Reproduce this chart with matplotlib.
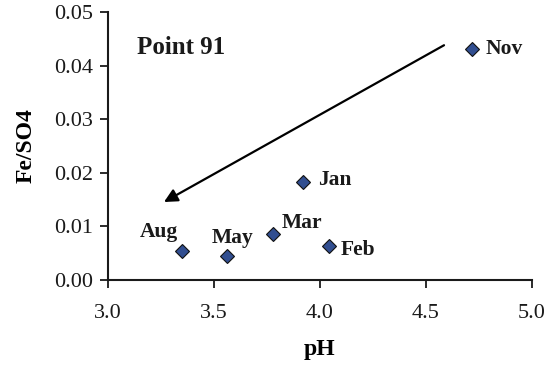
import matplotlib.pyplot as plt

# monthly samples at point 91
months = ['Nov', 'Jan', 'Mar', 'Feb', 'May', 'Aug']
ph = [4.717, 3.92, 3.78, 4.044, 3.563, 3.35]
fe_so4 = [0.0431, 0.0183, 0.0086, 0.0064, 0.0045, 0.0054]

# label placement in points: (dx, dy, ha, va)
offsets = {
    'Nov': (9.4, 0.0, 'left', 'center'),
    'Jan': (10.8, 1.4, 'left', 'center'),
    'Mar': (5.8, 4.3, 'left', 'baseline'),
    'Feb': (8.5, -3.2, 'left', 'center'),
    'May': (3.6, 9.4, 'center', 'baseline'),
    'Aug': (-3.0, 10.0, 'right', 'baseline'),
}

plt.rcParams['font.family'] = ['Liberation Serif', 'DejaVu Serif']

fig = plt.figure(figsize=(5.55, 3.67), dpi=100)
ax = fig.add_axes([108 / 555, 87 / 367, 424 / 555, 268 / 367])

ax.plot(ph, fe_so4, linestyle='none', marker='D', markersize=7.5,
        markerfacecolor='#314e90', markeredgecolor='#111111', markeredgewidth=0.8,
        zorder=3)

for m, x, y in zip(months, ph, fe_so4):
    dx, dy, ha, va = offsets[m]
    ax.annotate(m, (x, y), xytext=(dx, dy), textcoords='offset points',
                ha=ha, va=va, fontsize=15.5, fontweight='bold', color='#1a1a1a')

# trend arrow from Nov down to the low-pH cluster
ax.annotate('', xy=(3.264, 0.01455), xytext=(4.585, 0.0438),
            arrowprops=dict(arrowstyle='-|>', color='black', lw=1.6,
                            mutation_scale=20, shrinkA=0, shrinkB=0))

ax.text(3.137, 0.0433, 'Point 91', fontsize=18, fontweight='bold',
        ha='left', va='center', color='#1a1a1a')

ax.set_xlim(3.0, 5.0)
ax.set_ylim(0.0, 0.05)
ax.set_xticks([3.0, 3.5, 4.0, 4.5, 5.0])
ax.set_yticks([0.0, 0.01, 0.02, 0.03, 0.04, 0.05])
ax.set_xticklabels(['3.0', '3.5', '4.0', '4.5', '5.0'])
ax.set_yticklabels(['0.00', '0.01', '0.02', '0.03', '0.04', '0.05'])
ax.tick_params(direction='out', length=5.5, width=1.3, labelsize=16, colors='#1a1a1a')
ax.tick_params(axis='x', pad=12)
ax.tick_params(axis='y', pad=5)

for side in ['top', 'right']:
    ax.spines[side].set_visible(False)
for side in ['left', 'bottom']:
    ax.spines[side].set_linewidth(1.5)
    ax.spines[side].set_color('#1a1a1a')

ax.set_xlabel('pH', fontsize=17, fontweight='bold', labelpad=11)
ax.set_ylabel('Fe/SO4', fontsize=17, fontweight='bold', labelpad=13)

fig.savefig('out.png', dpi=100)
